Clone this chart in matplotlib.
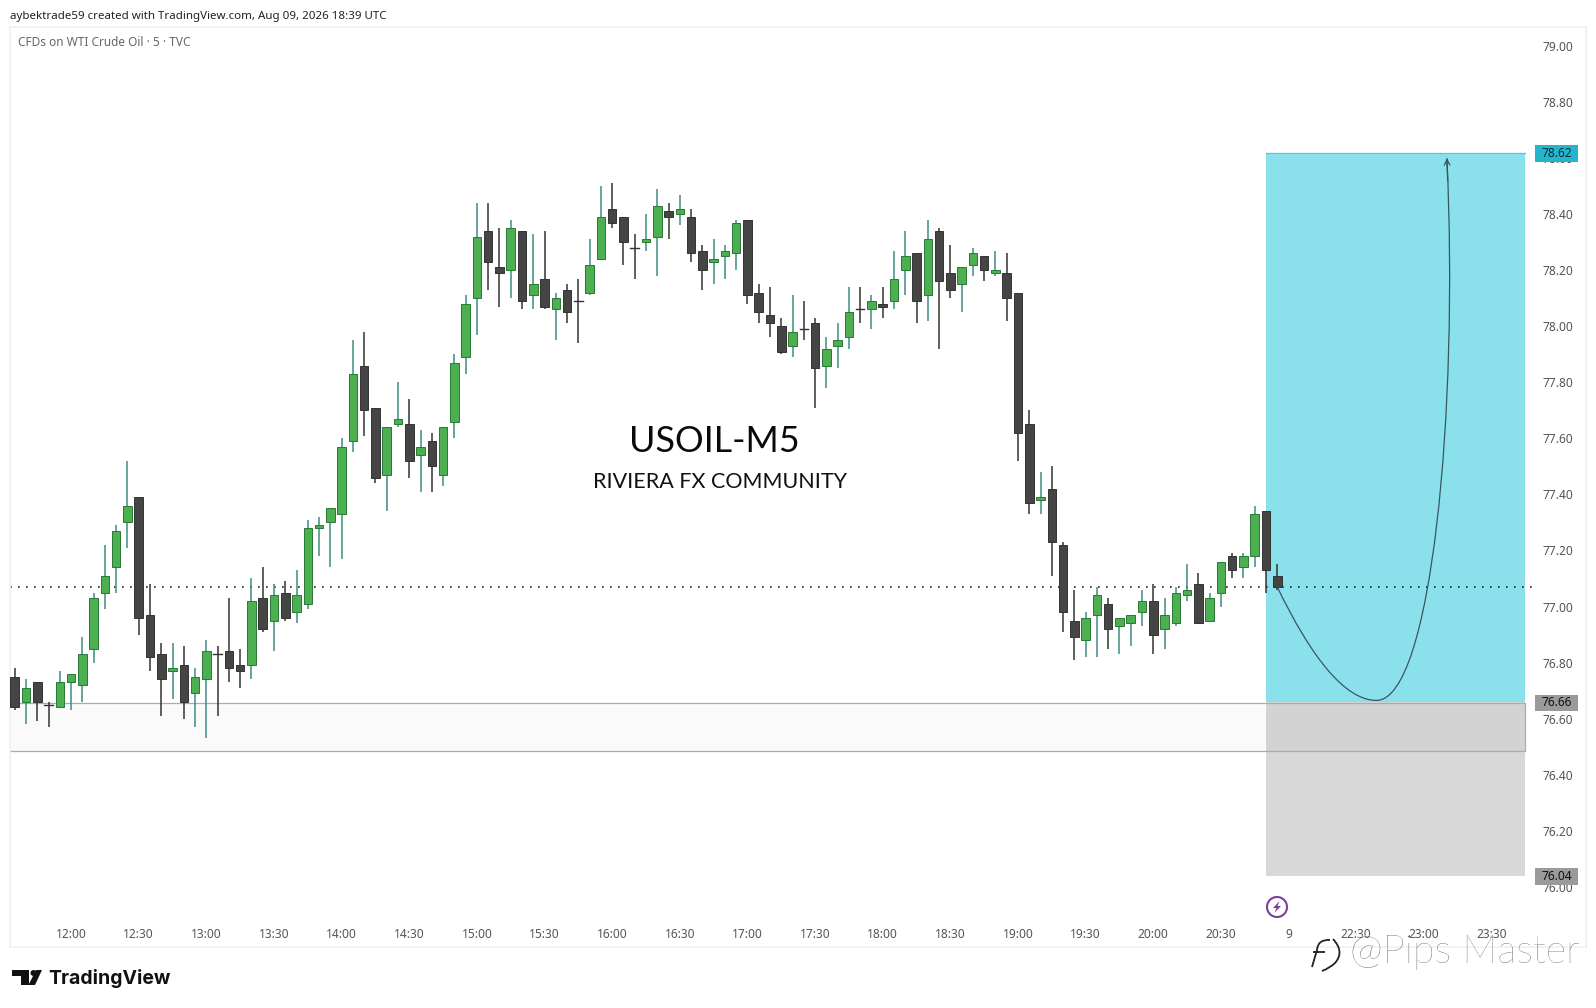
import matplotlib
matplotlib.use("Agg")
import matplotlib.pyplot as plt
from matplotlib.patches import Rectangle, PathPatch, Circle, Polygon
from matplotlib.path import Path

# OHLC readings, one candle every 5 minutes
opens = [76.75, 76.66, 76.73, 76.65, 76.64, 76.73, 76.72, 76.85, 77.05, 77.14,
         77.30, 77.39, 76.97, 76.83, 76.77, 76.79, 76.69, 76.74, 76.83, 76.84,
         76.79, 76.79, 77.03, 76.95, 77.05, 76.98, 77.01, 77.28, 77.30, 77.33,
         77.59, 77.86, 77.71, 77.47, 77.65, 77.65, 77.54, 77.59, 77.47, 77.66,
         77.89, 78.10, 78.34, 78.21, 78.20, 78.34, 78.11, 78.17, 78.06, 78.13,
         78.09, 78.12, 78.24, 78.42, 78.39, 78.28, 78.30, 78.32, 78.41, 78.40,
         78.39, 78.27, 78.23, 78.25, 78.26, 78.38, 78.12, 78.04, 78.00, 77.93,
         77.99, 78.01, 77.86, 77.93, 77.96, 78.06, 78.06, 78.08, 78.09, 78.20,
         78.26, 78.11, 78.34, 78.19, 78.15, 78.22, 78.25, 78.19, 78.19, 78.12,
         77.65, 77.38, 77.42, 77.22, 76.95, 76.88, 76.97, 77.01, 76.93, 76.94,
         76.98, 77.02, 76.92, 76.94, 77.04, 77.08, 76.95, 77.05, 77.18, 77.14,
         77.18, 77.34, 77.11]
highs = [76.78, 76.74, 76.73, 76.66, 76.77, 76.76, 76.89, 77.05, 77.22, 77.29,
         77.52, 77.39, 77.08, 76.87, 76.87, 76.86, 76.78, 76.88, 76.86, 77.03,
         76.85, 77.10, 77.14, 77.08, 77.09, 77.13, 77.31, 77.32, 77.35, 77.60,
         77.95, 77.98, 77.71, 77.64, 77.80, 77.74, 77.63, 77.62, 77.64, 77.90,
         78.11, 78.44, 78.44, 78.35, 78.38, 78.34, 78.33, 78.34, 78.12, 78.15,
         78.17, 78.31, 78.50, 78.51, 78.39, 78.33, 78.40, 78.49, 78.44, 78.47,
         78.42, 78.29, 78.31, 78.29, 78.38, 78.38, 78.15, 78.14, 78.03, 78.11,
         78.09, 78.03, 77.96, 78.01, 78.14, 78.14, 78.11, 78.14, 78.27, 78.34,
         78.26, 78.38, 78.35, 78.29, 78.21, 78.28, 78.25, 78.27, 78.26, 78.12,
         77.70, 77.48, 77.50, 77.23, 77.06, 76.98, 77.07, 77.03, 76.96, 76.97,
         77.06, 77.08, 77.03, 77.07, 77.15, 77.12, 77.05, 77.16, 77.19, 77.19,
         77.36, 77.34, 77.15]
lows = [76.63, 76.58, 76.59, 76.57, 76.64, 76.63, 76.66, 76.80, 76.99, 77.05,
        77.21, 76.90, 76.77, 76.61, 76.67, 76.60, 76.57, 76.53, 76.61, 76.73,
        76.71, 76.74, 76.91, 76.84, 76.95, 76.94, 76.99, 77.18, 77.14, 77.17,
        77.55, 77.61, 77.44, 77.34, 77.64, 77.46, 77.41, 77.41, 77.43, 77.60,
        77.83, 77.97, 78.13, 78.07, 78.10, 78.06, 78.06, 78.06, 77.95, 78.01,
        77.94, 78.11, 78.24, 78.35, 78.22, 78.17, 78.27, 78.18, 78.31, 78.36,
        78.23, 78.13, 78.15, 78.17, 78.20, 78.08, 78.01, 77.96, 77.90, 77.89,
        77.95, 77.71, 77.78, 77.85, 77.92, 78.01, 77.99, 78.03, 78.06, 78.11,
        78.01, 78.02, 77.92, 78.10, 78.05, 78.18, 78.16, 78.18, 78.02, 77.52,
        77.33, 77.33, 77.11, 76.91, 76.81, 76.82, 76.82, 76.85, 76.83, 76.86,
        76.93, 76.83, 76.85, 76.93, 77.02, 76.94, 76.95, 77.00, 77.10, 77.10,
        77.14, 77.05, 77.06]
closes = [76.64, 76.71, 76.66, 76.65, 76.73, 76.76, 76.83, 77.03, 77.11, 77.27,
          77.36, 76.96, 76.82, 76.74, 76.78, 76.66, 76.75, 76.84, 76.83, 76.78,
          76.77, 77.02, 76.92, 77.04, 76.96, 77.04, 77.28, 77.29, 77.35, 77.57,
          77.83, 77.70, 77.46, 77.64, 77.67, 77.52, 77.57, 77.50, 77.64, 77.87,
          78.08, 78.32, 78.23, 78.19, 78.35, 78.09, 78.15, 78.07, 78.10, 78.05,
          78.09, 78.22, 78.39, 78.37, 78.30, 78.28, 78.31, 78.43, 78.39, 78.42,
          78.26, 78.20, 78.24, 78.27, 78.37, 78.11, 78.05, 78.01, 77.91, 77.98,
          77.99, 77.85, 77.92, 77.95, 78.05, 78.06, 78.09, 78.07, 78.17, 78.25,
          78.09, 78.31, 78.16, 78.13, 78.21, 78.26, 78.20, 78.20, 78.10, 77.62,
          77.37, 77.39, 77.23, 76.98, 76.89, 76.96, 77.04, 76.92, 76.96, 76.97,
          77.02, 76.90, 76.97, 77.05, 77.06, 76.94, 77.03, 77.16, 77.13, 77.18,
          77.33, 77.13, 77.07]

price_ticks = [76.00, 76.20, 76.40, 76.60, 76.80, 77.00, 77.20, 77.40,
               77.60, 77.80, 78.00, 78.20, 78.40, 78.60, 78.80, 79.00]
time_ticks = [5, 11, 17, 23, 29, 35, 41, 47, 53, 59, 65, 71, 77, 83, 89, 95,
              101, 107, 113, 119, 125, 131]
time_labels = ["12:00", "12:30", "13:00", "13:30", "14:00", "14:30", "15:00",
               "15:30", "16:00", "16:30", "17:00", "17:30", "18:00", "18:30",
               "19:00", "19:30", "20:00", "20:30", "9", "22:30", "23:00", "23:30"]

last_price = 77.07
target_price = 78.62
entry_price = 76.66
stop_price = 76.04
zone_top = 76.655
zone_bottom = 76.485
box_start = 111
box_end = 134

GREEN = "#4caf50"
GREEN_EDGE = "#277a35"
GREEN_WICK = "#3f8c84"
DARK = "#454545"
DARK_EDGE = "#333333"
DARK_WICK = "#333333"
FONT = "Noto Sans"

W, H = 1596, 1008
fig = plt.figure(figsize=(W / 100, H / 100), dpi=100, facecolor="white")
plt.rcParams["font.family"] = FONT

# main chart panel, the price labels sit inside it like on TradingView
ax = fig.add_axes([10 / W, 1 - 947 / H, 1576 / W, 920 / H])
ax.set_xlim(-0.417, 139.39)
ax.set_ylim(75.785, 79.068)
for s in ax.spines.values():
    s.set_color("#f0f0f0")
    s.set_linewidth(1.2)

ax.yaxis.tick_right()
ax.set_yticks(price_ticks)
ax.set_yticklabels([f"{p:.2f}" for p in price_ticks])
ax.tick_params(axis="y", length=0, pad=-31, labelsize=8.6, labelcolor="#555555")
ax.set_xticks(time_ticks)
ax.set_xticklabels(time_labels)
ax.tick_params(axis="x", length=0, pad=-14, labelsize=8.6, labelcolor="#555555")

# long position box
ax.add_patch(Rectangle((box_start, entry_price), box_end - box_start, target_price - entry_price,
                       facecolor="#8ae1ec", edgecolor="none", zorder=1))
ax.add_patch(Rectangle((box_start, stop_price), box_end - box_start, entry_price - stop_price,
                       facecolor="#d8d8d8", edgecolor="none", zorder=1))
ax.plot([box_start, box_end], [target_price, target_price], color="#5cc6d6", lw=0.9, zorder=1.5)

# zone
ax.add_patch(Rectangle((-1, zone_bottom), box_end + 1, zone_top - zone_bottom,
                       facecolor=(0, 0, 0, 0.02), edgecolor="#ababab", lw=0.9, zorder=1.6))

ax.plot([-0.417, 134.6], [last_price, last_price], color="#222222", lw=1.2,
        linestyle=(0, (1, 3.8)), zorder=1.7)

# candles
for i in range(len(opens)):
    up = closes[i] > opens[i]
    wick = GREEN_WICK if up else DARK_WICK
    ax.vlines(i, lows[i], highs[i], color=wick, lw=1.1, zorder=3)
    if closes[i] == opens[i]:
        ax.plot([i - 0.38, i + 0.38], [opens[i], opens[i]], color=DARK_EDGE, lw=1.0, zorder=4)
    else:
        ax.bar(i, abs(closes[i] - opens[i]), bottom=min(opens[i], closes[i]), width=0.76,
               color=GREEN if up else DARK, edgecolor=GREEN_EDGE if up else DARK_EDGE,
               lw=0.7, zorder=4)

# hand drawn curve with arrow
curve_x = [112.0, 115.0, 118.0, 120.8, 125.7, 128.1, 127.05]
curve_y = [77.07, 76.82, 76.665, 76.665, 76.665, 77.7, 78.6]
codes = [Path.MOVETO] + [Path.CURVE4] * 6
ax.add_patch(PathPatch(Path(list(zip(curve_x, curve_y)), codes), facecolor="none",
                       edgecolor="#3a5560", lw=0.9, zorder=5))
ax.annotate("", xy=(curve_x[-1], curve_y[-1]), xytext=(curve_x[-1] + 0.07, curve_y[-1] - 0.08),
            arrowprops=dict(arrowstyle="->", color="#3a5560", lw=0.9, mutation_scale=10,
                            shrinkA=0, shrinkB=0), zorder=5)

# price tags on the axis, they sit a pixel under their level
tags = [(target_price, "#22b5cc", "#0c2f3a"), (entry_price, "#9a9a9a", "#111111"),
        (stop_price, "#9a9a9a", "#111111")]
tag_x = (1535 - 10) / 1576
tag_w = 43 / 1576
tag_shift = 0.004
for price, bg, fg in tags:
    ax.add_patch(Rectangle((tag_x, price - 0.03 - tag_shift), tag_w, 0.06,
                           transform=ax.get_yaxis_transform(),
                           facecolor=bg, edgecolor="none", zorder=6, clip_on=False))
    ax.text(tag_x + tag_w / 2, price - tag_shift, f"{price:.2f}",
            transform=ax.get_yaxis_transform(),
            ha="center", va="center", fontsize=8.6, color=fg, zorder=7)

# overlay in pixel coordinates for texts and logos
ov = fig.add_axes([0, 0, 1, 1], facecolor="none")
ov.set_xlim(0, W)
ov.set_ylim(H, 0)
ov.axis("off")

ov.text(10, 16, "aybektrade59 created with TradingView.com, Aug 09, 2026 18:39 UTC",
        fontsize=8.3, color="#222222", va="center")
ov.text(18, 43, "CFDs on WTI Crude Oil · 5 · TVC", fontsize=8.5, color="#666666", va="center")
ov.text(714, 442, "USOIL-M5", fontsize=25.8, family="Lato", color="#0a0a0a", ha="center", va="center")
ov.text(720, 482, "RIVIERA FX COMMUNITY", fontsize=15.5, family="Lato", color="#111111",
        ha="center", va="center")

# lightning icon
ov.add_patch(Circle((1277, 907), 10, facecolor="white", edgecolor="#7b3f98", lw=1.5))
ov.add_patch(Polygon([(1279.5, 901), (1273, 908), (1276.5, 908), (1274.5, 913),
                      (1281, 906), (1277.5, 906)], facecolor="#7b3f98", edgecolor="none"))

# TradingView logo
ov.add_patch(Polygon([(12, 970), (29, 970), (29, 985), (21, 985), (21, 976), (12, 976)],
                     facecolor="#111111", edgecolor="none"))
ov.add_patch(Circle((33.5, 973), 3, facecolor="#111111", edgecolor="none"))
ov.add_patch(Polygon([(36, 970), (42, 970), (35, 985), (28.5, 985)],
                     facecolor="#111111", edgecolor="none"))
ov.text(48, 979, "TradingView", fontsize=14, fontweight="bold", family="Inter",
        color="#111111", va="center")

# embossed watermark
for dx, col in ((1, "#555555"), (0, "white")):
    ov.text(1349 + dx, 951 + dx * 0.5, "@Pips Master", fontsize=28.5, fontweight="light",
            family="Lato", color=col, va="center")
mark_verts = [(1330, 940), (1318, 939), (1317, 950), (1312, 967),
              (1313, 952), (1325, 952),
              (1333, 939), (1345, 952), (1335, 963), (1330, 968), (1322, 971)]
mark_codes = [Path.MOVETO, Path.CURVE3, Path.CURVE3, Path.LINETO,
              Path.MOVETO, Path.LINETO,
              Path.MOVETO, Path.CURVE3, Path.CURVE3, Path.CURVE3, Path.CURVE3]
ov.add_patch(PathPatch(Path(mark_verts, mark_codes), facecolor="none", edgecolor="#222222", lw=1.3))

fig.savefig("out.png", dpi=100)
